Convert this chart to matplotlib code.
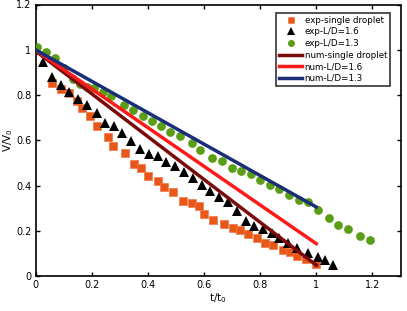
import matplotlib
matplotlib.use("Agg")
import matplotlib.pyplot as plt

# --- experimental data ---
t_single = [0.0, 0.059, 0.090, 0.119, 0.147, 0.166, 0.195, 0.219, 0.257, 0.276, 0.320,
            0.351, 0.377, 0.401, 0.435, 0.459, 0.489, 0.527, 0.557, 0.581, 0.601, 0.631,
            0.671, 0.702, 0.730, 0.756, 0.788, 0.817, 0.847, 0.880, 0.906, 0.933, 0.965, 0.999]
v_single = [1.0, 0.855, 0.828, 0.811, 0.774, 0.743, 0.705, 0.664, 0.615, 0.573, 0.542,
            0.496, 0.476, 0.443, 0.420, 0.395, 0.370, 0.332, 0.323, 0.311, 0.275, 0.248,
            0.229, 0.211, 0.204, 0.185, 0.166, 0.148, 0.135, 0.117, 0.106, 0.087, 0.075, 0.051]

t_16 = [0.0, 0.025, 0.059, 0.090, 0.118, 0.153, 0.184, 0.218, 0.249, 0.278, 0.309, 0.340,
        0.373, 0.403, 0.435, 0.466, 0.496, 0.529, 0.560, 0.593, 0.623, 0.654, 0.686, 0.716,
        0.749, 0.779, 0.810, 0.841, 0.868, 0.900, 0.933, 0.971, 1.006, 1.032, 1.061]
v_16 = [1.0, 0.947, 0.881, 0.844, 0.812, 0.784, 0.758, 0.720, 0.678, 0.664, 0.630, 0.598,
        0.561, 0.540, 0.532, 0.505, 0.485, 0.458, 0.433, 0.402, 0.376, 0.351, 0.326, 0.286,
        0.245, 0.223, 0.209, 0.191, 0.170, 0.147, 0.123, 0.103, 0.085, 0.069, 0.047]

t_13 = [0.006, 0.039, 0.068, 0.100, 0.133, 0.159, 0.183, 0.210, 0.242, 0.269, 0.315, 0.346,
        0.383, 0.416, 0.448, 0.480, 0.516, 0.558, 0.587, 0.629, 0.666, 0.699, 0.731, 0.767,
        0.800, 0.835, 0.868, 0.902, 0.938, 0.971, 1.006, 1.044, 1.079, 1.114, 1.156, 1.192]
v_13 = [1.012, 0.990, 0.962, 0.920, 0.872, 0.850, 0.836, 0.832, 0.815, 0.797, 0.755, 0.733,
        0.706, 0.686, 0.664, 0.637, 0.617, 0.587, 0.558, 0.523, 0.507, 0.477, 0.464, 0.449,
        0.424, 0.401, 0.383, 0.360, 0.335, 0.325, 0.292, 0.258, 0.226, 0.209, 0.179, 0.160]

# --- numerical results (straight lines) ---
t_num = [0.0, 1.0]
v_num_single = [0.995, 0.048]
v_num_16 = [0.998, 0.143]
v_num_13 = [1.0, 0.305]

fig = plt.figure(figsize=(4.07, 3.11), dpi=100)
ax = fig.add_axes([35.5 / 407, 35 / 311, 365 / 407, 271.5 / 311])

ax.plot(t_single, v_single, 's', color='#e8561a', markersize=5.2, markeredgecolor='#f07a45',
        markeredgewidth=0.5, label='exp-single droplet', zorder=3)
ax.plot(t_16, v_16, '^', color='black', markersize=7.5, markeredgewidth=0, label='exp-L/D=1.6', zorder=3)
ax.plot(t_13, v_13, 'o', color='#5a9e16', markersize=6.3, markeredgewidth=0, label='exp-L/D=1.3', zorder=3)
ax.plot(t_num, v_num_single, color='#7a0a0a', lw=2.5, label='num-single droplet', zorder=4)
ax.plot(t_num, v_num_16, color='#ff1a1a', lw=2.5, label='num-L/D=1.6', zorder=4)
ax.plot(t_num, v_num_13, color='#1a2e78', lw=2.5, label='num-L/D=1.3', zorder=4)

ax.set_xlim(0, 1.3)
ax.set_ylim(0, 1.2)
ax.set_xticks([0, 0.2, 0.4, 0.6, 0.8, 1.0, 1.2])
ax.set_xticklabels(['0', '0.2', '0.4', '0.6', '0.8', '1', '1.2'])
ax.set_yticks([0, 0.2, 0.4, 0.6, 0.8, 1.0, 1.2])
ax.set_yticklabels(['0', '0.2', '0.4', '0.6', '0.8', '1', '1.2'])
ax.tick_params(direction='in', length=3, width=1, top=True, right=True, labelsize=7, pad=3)
for s in ax.spines.values():
    s.set_linewidth(1.2)

ax.set_xlabel('t/t$_0$', fontsize=7.5, labelpad=1)
ax.set_ylabel('V/V$_0$', fontsize=7.5, labelpad=1)

leg = ax.legend(loc='upper right', bbox_to_anchor=(0.972, 0.97), fontsize=6.3, frameon=True,
                fancybox=False, edgecolor='black', handlelength=2.6, handletextpad=0.3,
                labelspacing=0.3, borderpad=0.35, borderaxespad=0, markerscale=0.8)
leg.get_frame().set_linewidth(1.2)

fig.savefig('out.png', dpi=100)
